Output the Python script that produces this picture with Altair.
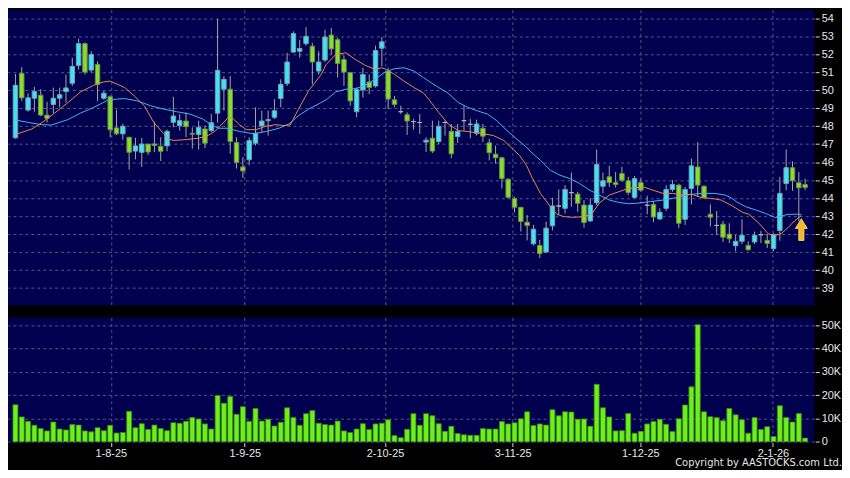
import altair as alt
import pandas as pd

# ---------------- data ----------------
opens = [47.35, 50.93, 48.89, 49.55, 49.72, 48.61, 49.2, 49.55, 49.92, 50.38,
         51.37, 52.58, 51.11, 51.43, 49.55, 49.63, 47.9, 47.57, 47.38, 46.61,
         46.54, 47.0, 47.01, 46.88, 46.9, 48.21, 48.03, 48.28, 47.6, 47.53,
         47.84, 47.75, 48.72, 50.05, 50.05, 47.09, 45.73, 46.13, 47.05, 48.01,
         48.3, 48.49, 49.53, 50.36, 52.11, 52.16, 52.58, 52.44, 51.06, 51.67,
         53.06, 52.8, 51.7, 50.97, 48.8, 50.01, 50.45, 50.23, 52.33, 51.06,
         49.46, 48.8, 48.63, 48.25, 48.2, 47.11, 47.33, 47.14, 48.2, 47.71,
         47.42, 48.3, 48.1, 47.6, 47.88, 47.07, 46.44, 46.24, 45.05, 43.98,
         43.49, 42.66, 41.46, 41.37, 41.0, 42.46, 43.56, 43.43, 44.3, 44.22,
         43.61, 42.73, 43.74, 44.66, 45.18, 44.86, 45.36, 44.96, 44.04, 44.86,
         43.6, 43.65, 42.84, 43.43, 44.48, 44.72, 42.82, 44.53, 45.73, 44.66,
         43.1, 42.48, 42.55, 42.0, 41.35, 41.6, 41.37, 41.56, 41.96, 41.65,
         41.19, 42.2, 44.81, 45.69, 44.85, 44.75]
highs = [50.9, 51.28, 49.83, 50.18, 50.05, 49.35, 50.14, 50.14, 50.87, 51.8,
         52.86, 52.65, 52.16, 51.6, 49.96, 49.7, 48.91, 48.12, 47.4, 47.35,
         47.35, 47.0, 48.25, 47.38, 47.8, 49.63, 48.67, 48.76, 47.93, 48.3,
         48.03, 48.67, 53.95, 50.78, 50.78, 47.38, 46.28, 47.38, 49.04, 48.85,
         48.85, 49.5, 50.6, 52.07, 53.26, 52.8, 53.5, 52.62, 52.16, 53.36,
         53.45, 52.9, 51.92, 51.0, 50.14, 51.24, 50.87, 52.47, 52.95, 51.24,
         49.68, 49.13, 48.76, 48.4, 48.67, 47.38, 48.3, 48.3, 48.3, 48.12,
         48.12, 49.13, 48.4, 48.36, 48.12, 47.29, 46.92, 46.3, 45.1, 44.07,
         43.5, 43.06, 42.51, 41.68, 42.69, 44.02, 44.48, 44.72, 45.42, 44.35,
         43.89, 43.98, 46.7, 45.42, 45.8, 45.45, 45.73, 45.18, 45.23, 45.08,
         44.13, 43.83, 43.43, 44.72, 45.0, 44.8, 44.62, 46.19, 47.11, 44.7,
         43.65, 43.28, 42.73, 42.6, 41.96, 42.82, 41.6, 42.14, 42.18, 42.0,
         42.05, 45.18, 46.7, 46.04, 45.45, 45.08]
lows = [47.3, 49.4, 48.8, 48.8, 48.55, 48.2, 48.72, 49.04, 49.3, 50.23,
        51.15, 50.87, 50.97, 49.4, 49.46, 47.38, 47.5, 47.24, 45.58, 46.15,
        45.73, 46.4, 46.55, 46.06, 46.6, 47.93, 47.75, 47.38, 46.74, 46.7,
        46.78, 47.66, 48.2, 48.85, 46.46, 45.64, 45.12, 45.82, 46.92, 47.66,
        47.47, 48.4, 49.04, 50.23, 52.07, 51.8, 52.47, 50.32, 50.87, 51.56,
        51.98, 50.69, 50.23, 49.13, 48.49, 49.59, 49.77, 50.14, 51.33, 48.94,
        49.04, 48.67, 47.51, 47.8, 47.57, 46.56, 46.5, 47.0, 47.47, 46.22,
        47.07, 47.75, 47.33, 47.47, 47.11, 46.1, 45.91, 44.53, 43.98, 43.2,
        42.14, 41.65, 41.37, 40.67, 40.95, 42.2, 43.06, 43.15, 43.52, 43.24,
        42.36, 42.69, 43.61, 44.26, 44.62, 44.59, 44.9, 44.17, 43.98, 44.35,
        43.1, 42.66, 42.79, 43.28, 44.35, 42.33, 42.51, 43.65, 44.07, 43.98,
        42.42, 41.96, 41.56, 41.5, 41.04, 41.44, 41.08, 41.44, 41.5, 41.22,
        41.04, 41.63, 44.44, 44.4, 42.7, 44.44]
closes = [50.27, 49.57, 49.57, 49.92, 48.61, 48.43, 49.55, 49.74, 50.12, 51.32,
          52.58, 51.0, 51.98, 50.32, 49.83, 47.8, 47.57, 47.99, 46.54, 46.9,
          47.0, 46.56, 46.92, 46.6, 47.71, 48.56, 48.3, 47.97, 47.55, 47.94,
          47.05, 48.18, 51.1, 50.6, 47.14, 45.97, 45.51, 47.2, 47.6, 48.28,
          48.36, 48.85, 50.32, 51.56, 53.14, 52.31, 52.99, 51.56, 51.56, 52.95,
          52.29, 51.48, 51.0, 49.4, 50.05, 50.86, 50.14, 52.2, 52.68, 49.5,
          49.2, 48.8, 48.28, 48.25, 48.2, 47.22, 46.61, 47.99, 48.2, 46.46,
          47.71, 48.3, 48.1, 48.12, 47.44, 46.52, 46.24, 45.08, 44.04, 43.49,
          42.7, 42.47, 42.27, 40.91, 42.33, 43.56, 43.56, 44.48, 44.3, 43.71,
          42.64, 43.61, 45.86, 44.96, 44.86, 44.75, 44.99, 44.31, 45.08, 44.44,
          43.6, 42.95, 43.21, 44.48, 44.75, 42.6, 44.48, 45.79, 44.72, 44.02,
          42.94, 42.48, 41.83, 41.74, 41.6, 41.93, 41.13, 41.93, 41.96, 41.48,
          41.97, 44.26, 45.69, 44.96, 44.57, 44.59]
volumes_k = [15.9, 10.7, 8.8, 7.1, 5.7, 4.7, 8.5, 5.5, 5.1, 7.4,
             7.2, 4.7, 4.3, 6.1, 4.8, 7.1, 3.8, 4.0, 13.1, 6.1,
             7.8, 5.3, 7.2, 5.7, 4.8, 8.2, 8.0, 8.8, 10.4, 9.8,
             7.7, 5.5, 19.9, 16.6, 19.5, 11.8, 15.1, 8.8, 14.3, 8.9,
             9.7, 6.8, 8.4, 14.6, 10.5, 7.1, 12.1, 13.4, 8.0, 7.4,
             7.2, 8.9, 4.7, 4.0, 5.5, 7.8, 5.3, 7.7, 8.0, 9.5,
             2.7, 1.8, 5.4, 12.1, 7.1, 12.1, 11.2, 7.8, 4.5, 6.7,
             3.6, 3.0, 2.8, 2.8, 5.7, 5.5, 5.5, 8.7, 7.7, 8.2,
             9.9, 12.9, 7.0, 7.7, 7.2, 13.8, 11.2, 12.9, 12.8, 9.7,
             9.8, 6.7, 24.7, 14.6, 10.7, 4.7, 4.8, 12.2, 3.7, 4.5,
             7.7, 8.7, 9.7, 7.5, 4.4, 9.9, 15.8, 23.6, 50.3, 12.9,
             10.8, 10.4, 9.1, 14.3, 11.6, 9.5, 3.7, 10.4, 5.3, 6.5,
             2.3, 15.5, 10.5, 8.5, 12.2, 1.6]
bar_index = list(range(len(opens)))

ma_short_x = [0, 2.6, 4.1, 6.2, 8.3, 10.3, 12.4, 13.9, 15.0, 17.3, 18.8, 20.4,
              21.9, 23.5, 24.2, 25.0, 27.0, 29.1, 30.6, 31.7, 32.5, 33.7, 34.5,
              35.5, 36.6, 38.1, 39.7, 41.2, 42.5, 43.5, 44.8, 46.4, 47.4, 48.4,
              49.2, 50.7, 52.3, 53.8, 55.4, 56.9, 58.0, 58.7, 60.0, 61.5, 63.1,
              64.6, 65.4, 67.0, 68.5, 70.1, 71.6, 73.1, 74.2, 75.7, 77.3, 78.8,
              79.8, 80.9, 81.6, 83.1, 84.7, 85.7, 86.8, 88.3, 89.9, 91.2, 92.4,
              94.0, 95.5, 97.0, 99.4, 100.9, 102.5, 104.0, 105.6, 107.1, 108.7,
              110.2, 111.7, 113.3, 114.1, 115.1, 116.1, 117.7, 119.2, 120.3,
              121.3, 122.3, 123.3, 124.4]
ma_short_v = [47.53, 47.84, 48.17, 48.72, 49.3, 49.9, 50.27, 50.45, 50.5, 50.14,
              49.68, 49.13, 48.2, 47.57, 47.29, 47.2, 47.25, 47.33, 47.5, 47.75,
              48.03, 48.49, 48.4, 48.06, 47.8, 47.8, 48.0, 48.08, 48.03, 48.06,
              48.94, 49.96, 50.41, 50.87, 51.43, 51.98, 52.07, 51.7, 51.37,
              51.15, 51.24, 51.15, 50.87, 50.5, 50.14, 49.83, 49.5, 48.76,
              48.12, 47.75, 47.7, 47.62, 47.57, 47.47, 47.2, 46.7, 46.37, 45.82,
              45.27, 44.26, 43.52, 43.1, 42.97, 42.93, 42.97, 43.1, 43.71,
              44.17, 44.35, 44.53, 44.62, 44.44, 44.26, 44.26, 44.17, 44.2,
              44.02, 43.98, 43.89, 43.6, 43.43, 43.21, 43.1, 42.6, 42.0, 41.92,
              42.05, 42.36, 42.73, 43.03]
ma_long_x = [0, 2.1, 4.1, 5.7, 8.3, 10.3, 12.4, 14.4, 16.0, 17.3, 19.3, 21.4,
             23.5, 25.5, 27.6, 29.6, 31.2, 32.2, 33.5, 35.5, 37.6, 39.7, 41.7,
             43.3, 44.8, 46.4, 48.4, 49.2, 50.7, 52.3, 53.8, 55.4, 56.9, 58.5,
             60.0, 61.5, 63.1, 64.6, 65.4, 67.0, 68.5, 70.1, 71.6, 73.1, 74.7,
             76.2, 77.8, 79.3, 80.9, 81.6, 83.1, 84.7, 86.2, 87.8, 89.3, 90.9,
             92.4, 94.0, 95.5, 97.0, 98.3, 100.4, 102.5, 104.5, 106.6, 108.7,
             110.7, 112.3, 113.3, 114.1, 115.6, 117.2, 118.7, 120.3, 121.3,
             122.3, 123.3, 124.4]
ma_long_v = [48.34, 48.2, 48.08, 48.06, 48.36, 48.72, 49.04, 49.4, 49.5, 49.53,
             49.4, 49.13, 48.94, 48.8, 48.67, 48.4, 48.03, 47.88, 47.88, 47.7,
             47.58, 47.7, 47.88, 48.12, 48.58, 48.94, 49.31, 49.46, 49.9,
             50.05, 50.08, 50.27, 50.6, 51.0, 51.19, 51.24, 51.06, 50.69, 50.5,
             50.14, 49.83, 49.31, 49.04, 48.85, 48.67, 48.3, 47.75, 47.29,
             46.83, 46.56, 46.1, 45.54, 45.27, 45.08, 44.81, 44.44, 44.17,
             43.89, 43.76, 43.69, 43.71, 43.8, 43.89, 44.02, 44.2, 44.26,
             44.26, 44.17, 44.02, 43.8, 43.52, 43.34, 43.15, 42.92, 43.0,
             43.1, 43.1, 43.1]

tick_pos = [15.1, 36.3, 58.5, 78.7, 98.9, 119.9]
tick_labels = ["1-8-25", "1-9-25", "2-10-25", "3-11-25", "1-12-25", "2-1-26"]
price_ticks = list(range(39, 55))
volume_ticks = [0, 10, 20, 30, 40, 50]
arrow_x = [124.4]
arrow_y = [42.25]
copyright_text = ["Copyright by AASTOCKS.com Ltd."]

# ---------------- styling ----------------
BG = "#00004e"
GRID = "#56568e"
UP = "#3ee4f2"
UP_STROKE = "#7d9cae"
DN = "#86e02a"
DN_STROKE = "#6e8c4c"
FLAT = "#b4b4b4"
WICK = "#a6a6a6"
VOL = "#6cf01c"
VOL_STROKE = "#3a8a0e"
MA_SHORT = "#e8884a"
MA_LONG = "#4ab2ee"
TXT = "#e6e6e6"
W = 812
H_TOP = 298
H_VOL = 126

df = pd.DataFrame({"i": bar_index, "open": opens, "high": highs, "low": lows,
                   "close": closes, "vol": volumes_k})
df["dir"] = ["up" if c > o else ("down" if c < o else "flat") for o, c in zip(opens, closes)]

xs = alt.Scale(domain=[-0.39, 125.65], nice=False, zero=False)
ys = alt.Scale(domain=[38.03, 54.47], nice=False, zero=False)
vs = alt.Scale(domain=[-0.3, 53.4], nice=False, zero=False)
dir_fill = alt.Scale(domain=["up", "down", "flat"], range=[UP, DN, FLAT])
dir_stroke = alt.Scale(domain=["up", "down", "flat"], range=[UP_STROKE, DN_STROKE, FLAT])

x_top_axis = alt.Axis(values=tick_pos, labels=False, ticks=False, domain=False,
                      grid=True, gridColor=GRID, gridDash=[3, 3], gridWidth=1, title=None)
y_price_axis = alt.Axis(orient="right", values=price_ticks, grid=True, gridColor=GRID,
                        gridDash=[3, 3], domain=False, tickColor="#d8d8d8", tickSize=4,
                        labelColor=TXT, labelFontSize=11, labelPadding=2, offset=1,
                        labelOverlap=False, title=None, labelFont="Liberation Sans")


def px(field):
    return alt.X(field, scale=xs, axis=x_top_axis)


def py(field):
    return alt.Y(field, scale=ys, axis=y_price_axis)


base = alt.Chart(df)
wicks = base.mark_rule(color=WICK, strokeWidth=1, clip=True).encode(
    x=px("i:Q"), y=py("low:Q"), y2="high:Q",
)
bodies = base.mark_bar(size=4.5, strokeWidth=1, clip=True).encode(
    x=px("i:Q"), y=py("open:Q"), y2="close:Q",
    fill=alt.Fill("dir:N", scale=dir_fill, legend=None),
    stroke=alt.Stroke("dir:N", scale=dir_stroke, legend=None),
)
ma_short = alt.Chart(pd.DataFrame({"x": ma_short_x, "v": ma_short_v})).mark_line(
    color=MA_SHORT, strokeWidth=1, clip=True).encode(x=px("x:Q"), y=py("v:Q"))
ma_long = alt.Chart(pd.DataFrame({"x": ma_long_x, "v": ma_long_v})).mark_line(
    color=MA_LONG, strokeWidth=1, clip=True).encode(x=px("x:Q"), y=py("v:Q"))
arrow_path = "M0,-1 L0.55,-0.1 L0.24,-0.1 L0.24,1 L-0.24,1 L-0.24,-0.1 L-0.55,-0.1 Z"
arrow = alt.Chart(pd.DataFrame({"x": arrow_x, "y": arrow_y})).mark_point(
    shape=arrow_path, size=480, filled=True, fill="#f4b72c", stroke="#ffe27a",
    strokeWidth=0.8, opacity=1).encode(x=px("x:Q"), y=py("y:Q"))

top = alt.layer(wicks, bodies, ma_long, ma_short, arrow).properties(width=W, height=H_TOP)

label_expr = "".join(
    f"abs(datum.value - {p}) < 0.01 ? '{l}' : " for p, l in zip(tick_pos, tick_labels)
) + "''"
x_vol_axis = alt.Axis(values=tick_pos, labelExpr=label_expr, grid=True, gridColor=GRID,
                      gridDash=[3, 3], domain=False, tickColor="#d8d8d8", tickSize=4,
                      labelColor=TXT, labelFontSize=11, labelPadding=1, title=None,
                      labelOverlap=False, labelFont="Liberation Sans")
y_vol_axis = alt.Axis(orient="right", values=volume_ticks, grid=True, gridColor=GRID,
                      gridDash=[3, 3], domain=False, tickColor="#d8d8d8", tickSize=4,
                      labelColor=TXT, labelFontSize=11, labelPadding=2, offset=1,
                      labelOverlap=False, title=None, labelFont="Liberation Sans",
                      labelExpr="datum.value == 0 ? '0' : datum.value + 'K'")

vol_bars = base.mark_bar(size=5, fill=VOL, stroke=VOL_STROKE, strokeWidth=0.8, clip=True).encode(
    x=alt.X("i:Q", scale=xs, axis=x_vol_axis),
    y=alt.Y("vol:Q", scale=vs, axis=y_vol_axis),
    y2=alt.datum(0),
)
credit = alt.Chart(pd.DataFrame({"t": copyright_text})).mark_text(
    align="right", baseline="bottom", color=TXT, font="DejaVu Sans", fontSize=10).encode(
    x=alt.value(W + 28), y=alt.value(H_VOL + 26), text="t:N")

volume = alt.layer(vol_bars, credit).properties(width=W, height=H_VOL)

chart = alt.vconcat(top, volume, spacing=12).properties(
    padding=0, background="#000000"
).configure_view(fill=BG, stroke=None)

chart.save("out.html", embed_options={"renderer": "svg", "actions": False})
